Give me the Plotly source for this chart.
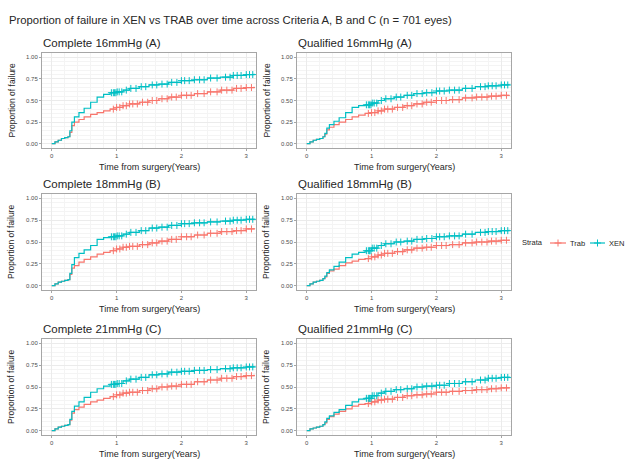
import numpy as np
import plotly.graph_objects as go

# ---------------- data ----------------
MAIN_TITLE = "Proportion of failure in XEN vs TRAB over time across Criteria A, B and C (n = 701 eyes)"
PANEL_TITLES = ["Complete 16mmHg (A)", "Qualified 16mmHg (A)",
                "Complete 18mmHg (B)", "Qualified 18mmHg (B)",
                "Complete 21mmHg (C)", "Qualified 21mmHg (C)"]
X_TITLE = "Time from surgery(Years)"
Y_TITLE = "Proportion of failure"
LEGEND_TITLE = "Strata"
GROUPS = ["Trab", "XEN"]
X_TICKS = [0, 1, 2, 3]
Y_TICKS = [0.0, 0.25, 0.5, 0.75, 1.0]

# event times (years) shared by the step curves
TIMES = [0, 0.05, 0.1, 0.15, 0.2, 0.25, 0.28, 0.31, 0.35, 0.42, 0.5, 0.6, 0.7, 0.8, 0.9,
         1.0, 1.1, 1.2, 1.35, 1.5, 1.65, 1.8, 2.0, 2.2, 2.4, 2.6, 2.8, 3.0, 3.12]

# cumulative failure per panel
XEN_COMPLETE_A = [0, 0.02, 0.04, 0.06, 0.07, 0.08, 0.15, 0.25, 0.31, 0.36, 0.41, 0.48, 0.54, 0.57, 0.59,
                  0.60, 0.62, 0.64, 0.66, 0.68, 0.69, 0.71, 0.73, 0.74, 0.76, 0.77, 0.79, 0.80, 0.81]
TRAB_COMPLETE_A = [0, 0.02, 0.04, 0.06, 0.07, 0.08, 0.13, 0.21, 0.25, 0.28, 0.31, 0.34, 0.36, 0.38, 0.40,
                   0.42, 0.44, 0.46, 0.48, 0.50, 0.52, 0.54, 0.56, 0.58, 0.60, 0.62, 0.64, 0.65, 0.66]
XEN_QUAL_A = [0, 0.02, 0.04, 0.05, 0.06, 0.08, 0.12, 0.18, 0.22, 0.26, 0.30, 0.36, 0.42, 0.44, 0.45,
              0.47, 0.50, 0.52, 0.54, 0.56, 0.58, 0.59, 0.61, 0.62, 0.64, 0.66, 0.67, 0.68, 0.69]
TRAB_QUAL_A = [0, 0.02, 0.04, 0.05, 0.06, 0.08, 0.11, 0.16, 0.19, 0.22, 0.25, 0.28, 0.31, 0.33, 0.35,
               0.36, 0.38, 0.40, 0.42, 0.44, 0.46, 0.48, 0.50, 0.51, 0.53, 0.54, 0.55, 0.56, 0.56]
XEN_COMPLETE_B = [0, 0.02, 0.04, 0.05, 0.06, 0.07, 0.14, 0.24, 0.32, 0.37, 0.41, 0.46, 0.53, 0.55, 0.56,
                  0.57, 0.59, 0.61, 0.63, 0.66, 0.67, 0.69, 0.71, 0.72, 0.73, 0.74, 0.75, 0.76, 0.77]
TRAB_COMPLETE_B = [0, 0.02, 0.04, 0.05, 0.06, 0.07, 0.13, 0.20, 0.23, 0.27, 0.30, 0.33, 0.36, 0.38, 0.40,
                   0.42, 0.44, 0.45, 0.47, 0.49, 0.51, 0.53, 0.56, 0.58, 0.60, 0.62, 0.63, 0.65, 0.66]
XEN_QUAL_B = [0, 0.02, 0.04, 0.05, 0.06, 0.08, 0.11, 0.15, 0.18, 0.22, 0.27, 0.32, 0.36, 0.38, 0.40,
              0.43, 0.46, 0.48, 0.50, 0.51, 0.53, 0.54, 0.56, 0.57, 0.59, 0.61, 0.62, 0.63, 0.64]
TRAB_QUAL_B = [0, 0.02, 0.04, 0.05, 0.06, 0.08, 0.10, 0.14, 0.17, 0.19, 0.23, 0.26, 0.28, 0.30, 0.31,
               0.33, 0.35, 0.37, 0.39, 0.41, 0.43, 0.44, 0.46, 0.47, 0.49, 0.50, 0.51, 0.52, 0.53]
XEN_COMPLETE_C = [0, 0.02, 0.04, 0.05, 0.06, 0.07, 0.13, 0.22, 0.28, 0.33, 0.38, 0.44, 0.48, 0.51, 0.53,
                  0.54, 0.57, 0.59, 0.61, 0.64, 0.65, 0.67, 0.68, 0.69, 0.70, 0.71, 0.72, 0.73, 0.74]
TRAB_COMPLETE_C = [0, 0.02, 0.04, 0.05, 0.06, 0.07, 0.12, 0.20, 0.24, 0.27, 0.30, 0.33, 0.35, 0.37, 0.39,
                   0.41, 0.43, 0.44, 0.46, 0.48, 0.50, 0.51, 0.53, 0.56, 0.58, 0.60, 0.62, 0.63, 0.64]
XEN_QUAL_C = [0, 0.02, 0.03, 0.04, 0.05, 0.07, 0.10, 0.14, 0.17, 0.21, 0.24, 0.29, 0.33, 0.36, 0.37,
              0.40, 0.43, 0.45, 0.47, 0.48, 0.50, 0.51, 0.52, 0.54, 0.56, 0.58, 0.60, 0.61, 0.62]
TRAB_QUAL_C = [0, 0.02, 0.03, 0.04, 0.05, 0.07, 0.09, 0.13, 0.16, 0.19, 0.22, 0.25, 0.28, 0.30, 0.31,
               0.33, 0.35, 0.36, 0.38, 0.40, 0.41, 0.42, 0.44, 0.45, 0.46, 0.47, 0.48, 0.49, 0.50]

# censoring times (years)
XEN_CENSOR = [0.92, 0.95, 0.97, 0.99, 1.01, 1.04, 1.08, 1.15, 1.22, 1.3, 1.38, 1.45, 1.55, 1.62, 1.7,
              1.78, 1.85, 1.93, 2.0, 2.05, 2.12, 2.2, 2.28, 2.35, 2.45, 2.55, 2.68, 2.75, 2.8, 2.86,
              2.92, 3.0, 3.05, 3.1]
TRAB_CENSOR = [0.95, 1.0, 1.05, 1.1, 1.15, 1.2, 1.25, 1.32, 1.4, 1.48, 1.55, 1.62, 1.7, 1.78, 1.85,
               1.92, 2.0, 2.08, 2.15, 2.25, 2.35, 2.45, 2.55, 2.62, 2.7, 2.78, 2.85, 2.92, 3.0, 3.08]

PANELS = [(TRAB_COMPLETE_A, XEN_COMPLETE_A), (TRAB_QUAL_A, XEN_QUAL_A),
          (TRAB_COMPLETE_B, XEN_COMPLETE_B), (TRAB_QUAL_B, XEN_QUAL_B),
          (TRAB_COMPLETE_C, XEN_COMPLETE_C), (TRAB_QUAL_C, XEN_QUAL_C)]

# ---------------- styling / layout ----------------
W, H = 627, 460
COLORS = {"Trab": "#F8766D", "XEN": "#00BFC4"}
COLS_PX = [(42, 256), (297, 511)]
ROWS_PX = [(53, 148), (194, 290), (339, 435)]
TXT = "#262626"
TICK = "#4d4d4d"
FONT = "Liberation Sans, Arial"
# legend key box (pixels) and per-key sample spans within it
LEG_BOX_PX = (548, 627, 236, 250)
LEG_KEY_SPANS = {"Trab": (2, 18), "XEN": (42, 57)}


def px_x(p):
    return p / W


def px_y(p):
    return 1 - p / H


def step_value(times, vals, t):
    i = np.searchsorted(np.asarray(times), t, side="right") - 1
    return np.asarray(vals)[np.clip(i, 0, len(vals) - 1)]


fig = go.Figure()
annotations = []
layout_axes = {}

for k, (trab, xen) in enumerate(PANELS):
    r, c = divmod(k, 2)
    idx = "" if k == 0 else str(k + 1)
    xa, ya = "x" + idx, "y" + idx
    x0, x1 = COLS_PX[c]
    y0, y1 = ROWS_PX[r]
    for g, vals, cens in (("Trab", trab, TRAB_CENSOR), ("XEN", xen, XEN_CENSOR)):
        fig.add_trace(go.Scatter(x=TIMES, y=vals, mode="lines", line=dict(color=COLORS[g], width=1.2, shape="hv"),
                                 xaxis=xa, yaxis=ya, showlegend=False, hoverinfo="skip"))
        cy = step_value(TIMES, vals, np.asarray(cens))
        fig.add_trace(go.Scatter(x=cens, y=cy, mode="markers",
                                 marker=dict(symbol="cross-thin-open", size=5, color=COLORS[g],
                                             line=dict(color=COLORS[g], width=1)),
                                 xaxis=xa, yaxis=ya, showlegend=False, hoverinfo="skip"))
    common = dict(showline=True, mirror=True, linecolor="#a6a6a6", linewidth=1,
                  ticks="outside", ticklen=2, tickcolor="#a6a6a6",
                  tickfont=dict(family=FONT, size=6, color=TICK),
                  showgrid=True, gridcolor="#ebebeb", gridwidth=0.8, zeroline=False,
                  minor=dict(showgrid=True, gridcolor="#f4f4f4", gridwidth=0.5))
    layout_axes["xaxis" + idx] = dict(common, domain=[px_x(x0), px_x(x1)], anchor=ya,
                                      range=[-0.15, 3.15], tickvals=X_TICKS, ticktext=[str(v) for v in X_TICKS])
    layout_axes["yaxis" + idx] = dict(common, domain=[px_y(y1), px_y(y0)], anchor=xa,
                                      range=[-0.05, 1.05], tickvals=Y_TICKS, tickformat=".2f")
    annotations.append(dict(text=PANEL_TITLES[k], x=px_x(x0 - 1), y=px_y(y0 - 10), xref="paper", yref="paper",
                            xanchor="left", yanchor="middle", showarrow=False,
                            font=dict(family=FONT, size=11.5, color=TXT)))
    annotations.append(dict(text=X_TITLE, x=px_x((x0 + x1) / 2), y=px_y(y1 + 19), xref="paper", yref="paper",
                            xanchor="center", yanchor="middle", showarrow=False,
                            font=dict(family=FONT, size=9, color=TXT)))
    annotations.append(dict(text=Y_TITLE, x=px_x(x0 - 31), y=px_y((y0 + y1) / 2), xref="paper", yref="paper",
                            xanchor="center", yanchor="middle", showarrow=False, textangle=-90,
                            font=dict(family=FONT, size=8.5, color=TXT)))

annotations.append(dict(text=MAIN_TITLE, x=px_x(7), y=px_y(20), xref="paper", yref="paper",
                        xanchor="left", yanchor="middle", showarrow=False,
                        font=dict(family=FONT, size=11.3, color=TXT)))

# ---- legend: "Strata" + compact keys on a hidden helper axis ----
lx0, lx1, ly0, ly1 = LEG_BOX_PX
lw = lx1 - lx0
annotations.append(dict(text=LEGEND_TITLE, x=px_x(lx0 - 3), y=px_y((ly0 + ly1) / 2), xref="paper", yref="paper",
                        xanchor="right", yanchor="middle", showarrow=False,
                        font=dict(family=FONT, size=7.5, color=TXT)))
for g in GROUPS:
    a, b = LEG_KEY_SPANS[g]
    fig.add_trace(go.Scatter(x=[a, b], y=[0.5, 0.5], mode="lines", line=dict(color=COLORS[g], width=1.2),
                             xaxis="x7", yaxis="y7", showlegend=False, hoverinfo="skip"))
    fig.add_trace(go.Scatter(x=[(a + b) / 2], y=[0.5], mode="markers",
                             marker=dict(symbol="cross-thin-open", size=5, color=COLORS[g],
                                         line=dict(color=COLORS[g], width=1)),
                             xaxis="x7", yaxis="y7", showlegend=False, hoverinfo="skip"))
    annotations.append(dict(text=g, x=b + 2, y=0.5, xref="x7", yref="y7", xanchor="left", yanchor="middle",
                            showarrow=False, font=dict(family=FONT, size=7.5, color=TXT)))
hidden = dict(visible=False, showgrid=False, zeroline=False, fixedrange=True)
layout_axes["xaxis7"] = dict(hidden, domain=[px_x(lx0), px_x(lx1)], range=[0, lw], anchor="y7")
layout_axes["yaxis7"] = dict(hidden, domain=[px_y(ly1), px_y(ly0)], range=[0, 1], anchor="x7")

fig.update_layout(
    width=W, height=H, margin=dict(l=0, r=0, t=0, b=0, autoexpand=False),
    paper_bgcolor="white", plot_bgcolor="white",
    annotations=annotations, showlegend=False,
    **layout_axes,
)

fig.write_html("out.html", config={"displayModeBar": False},
               post_script="document.body.style.margin='0';document.body.style.overflow='hidden';")
